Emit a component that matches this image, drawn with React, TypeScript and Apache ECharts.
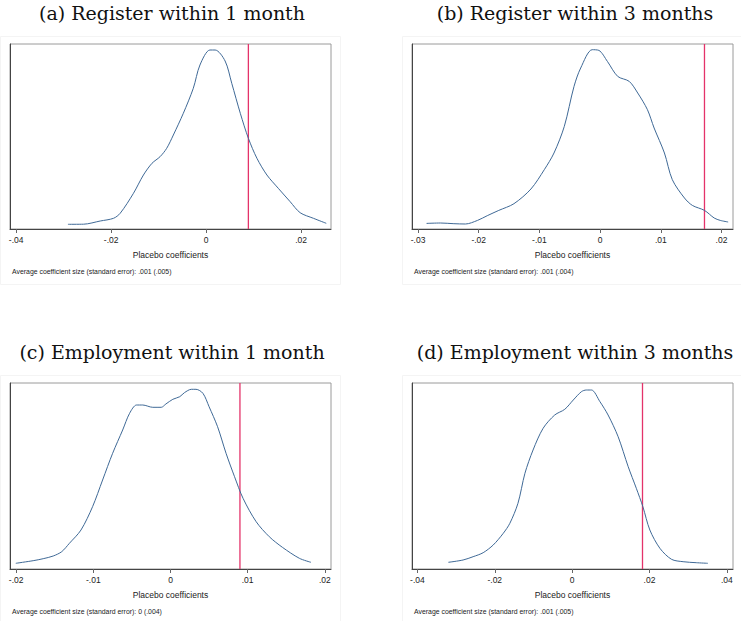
import React, { useEffect, useRef } from "react";
import * as echarts from "echarts";

// Panel titles
const titles = [
  "(a) Register within 1 month",
  "(b) Register within 3 months",
  "(c) Employment within 1 month",
  "(d) Employment within 3 months",
];
const footnotes = [
  "Average coefficient size (standard error): .001 (.005)",
  "Average coefficient size (standard error): .001 (.004)",
  "Average coefficient size (standard error): 0 (.004)",
  "Average coefficient size (standard error): .001 (.005)",
];
const xAxisTitle = "Placebo coefficients";

// x ranges and ticks
const xMins = [-0.0413, -0.031, -0.0208, -0.0414];
const xMaxs = [0.0263, 0.0219, 0.0208, 0.0416];
const ticksA = [-0.04, -0.02, 0, 0.02];
const ticksB = [-0.03, -0.02, -0.01, 0, 0.01, 0.02];
const ticksC = [-0.02, -0.01, 0, 0.01, 0.02];
const ticksD = [-0.04, -0.02, 0, 0.02, 0.04];
// actual estimates (red lines)
const actualEstimates = [0.0089, 0.0172, 0.009, 0.0182];

// Density curves: coefficient (x 1000) and density height
const coefA = [-29.1, -25.8, -22.3, -19.5, -18.1, -15.3, -13.2, -11.4, -9.7, -8.3, -6.9, -4.8, -2.7, -1.3, 0.8, 1.9, 4.0, 5.4, 7.2, 8.9, 10.7, 12.8, 15.2, 17.7, 19.8, 22.6, 25.3];
const densA = [4.7, 4.8, 8, 10.7, 15.7, 35.7, 54, 65.7, 72.3, 80.7, 94, 115.7, 140.7, 164, 179, 179, 168, 145.7, 115.7, 90.7, 70.7, 54, 40.7, 27.3, 16.3, 10.7, 5.7];

const coefB = [-28.6, -26.3, -24.1, -22.2, -20.2, -18.6, -16.7, -14.2, -11.4, -9.2, -7.6, -5.9, -4.3, -3.2, -1.3, -0.2, 1.2, 2.9, 4.8, 6.2, 7.8, 8.9, 10.6, 11.9, 13.9, 15.2, 17.2, 18.8, 19.8, 21.1];
const densB = [5.6, 6, 5.3, 5, 8.6, 13.3, 18.6, 25.3, 40, 59.3, 76, 102.6, 142.6, 161, 179.3, 178.6, 167.6, 152.6, 147.6, 136, 119.3, 101, 76, 49.3, 31, 23.6, 18.6, 11, 8.6, 7];

const coefC = [-20.05, -17.8, -16.5, -15.2, -14.1, -13.1, -11.6, -10.1, -8.8, -7.5, -6.2, -5.3, -4.4, -3.6, -2.3, -1.2, -0.6, 0.3, 1.2, 1.8, 2.7, 3.3, 4.2, 5.0, 6.1, 7.2, 8.3, 9.4, 11.1, 12.8, 14.5, 16.7, 18.2];
const densC = [5.7, 8.3, 10.3, 13, 17.3, 25.7, 39, 62.3, 89, 115.7, 139, 155.7, 164, 164, 161.7, 161.7, 165, 169.7, 172.3, 176.3, 179.7, 179.7, 175.7, 162.3, 142.3, 115.7, 92.3, 70.7, 47.3, 32.3, 21.7, 10.7, 6.7];

const coefD = [-32.0, -28.2, -25.6, -23.0, -20.4, -17.8, -16.1, -14.0, -12.2, -10.1, -7.5, -4.5, -1.9, 0.3, 2.4, 3.7, 5.0, 7.2, 9.3, 11.9, 14.5, 16.6, 18.3, 20.1, 22.7, 25.7, 28.7, 32.1, 35.1];
const densD = [6.7, 9, 12.3, 16.3, 24, 35.7, 45.7, 65.7, 95.7, 119, 140.7, 154, 159.7, 169, 177.3, 179, 179, 167.3, 154, 132.3, 102.3, 80.7, 62.3, 39, 20.7, 9.7, 7.3, 6.3, 5.7];

const coefs = [coefA, coefB, coefC, coefD];
const dens = [densA, densB, densC, densD];
const ticks = [ticksA, ticksB, ticksC, ticksD];
const yMaxs = [185, 185, 186, 186];

// layout (pixels)
const grids = [
  { left: 10, top: 44, width: 321, height: 185 },
  { left: 412, top: 44, width: 321, height: 185 },
  { left: 10, top: 383, width: 321, height: 186 },
  { left: 412, top: 383, width: 321, height: 186 },
];
const titlePos = [
  { x: 172, y: 13 },
  { x: 575, y: 13 },
  { x: 172, y: 352 },
  { x: 575, y: 352 },
];
const regionRects = [
  { x: 0, y: 36, w: 340, h: 248 },
  { x: 402, y: 36, w: 345, h: 248 },
  { x: 0, y: 375, w: 340, h: 250 },
  { x: 402, y: 375, w: 345, h: 250 },
];

const fmt = (v: number) => {
  if (Math.abs(v) < 1e-12) return "0";
  const s = String(parseFloat(v.toFixed(4)));
  return s.replace(/^(-?)0\./, "$1.");
};

export default function App() {
  const ref = useRef<HTMLDivElement>(null);
  useEffect(() => {
    if (!ref.current) return;
    const chart = echarts.init(ref.current, null, { renderer: "svg" });
    const sans = "Liberation Sans, Arial, sans-serif";
    const graphic: any[] = [];
    regionRects.forEach((r) => {
      graphic.push({
        type: "rect",
        shape: { x: r.x + 0.5, y: r.y + 0.5, width: r.w, height: r.h },
        style: { fill: "none", stroke: "#f4f4f4", lineWidth: 1 },
        silent: true,
        z: -1,
      });
    });
    titles.forEach((t, i) => {
      graphic.push({
        type: "text",
        x: titlePos[i].x,
        y: titlePos[i].y,
        style: {
          text: t,
          font: '19px "DejaVu Serif", serif',
          fill: "#111",
          textAlign: "center",
          textVerticalAlign: "middle",
        },
      });
    });
    footnotes.forEach((t, i) => {
      const g = grids[i];
      graphic.push({
        type: "text",
        x: g.left + 2,
        y: g.top + g.height + 42,
        style: {
          text: t,
          font: "6.9px " + sans,
          fill: "#222",
          textAlign: "left",
          textVerticalAlign: "middle",
        },
      });
    });

    const curveSeries = grids.map((_, i) => ({
      type: "line",
      xAxisIndex: i,
      yAxisIndex: i,
      data: coefs[i].map((c, k) => [c / 1000, dens[i][k]]),
      smooth: 0.3,
      showSymbol: false,
      symbol: "none",
      lineStyle: { color: "#3f6996", width: 1 },
      z: 3,
    }));
    const redSeries = grids.map((_, i) => ({
      type: "line",
      xAxisIndex: i,
      yAxisIndex: i,
      data: [
        [actualEstimates[i], 0],
        [actualEstimates[i], yMaxs[i]],
      ],
      showSymbol: false,
      symbol: "none",
      lineStyle: { color: "#e4336a", width: 1.3 },
      z: 2,
    }));

    const option: any = {
      animation: false,
      backgroundColor: "#ffffff",
      grid: grids.map((g) => ({
        ...g,
        show: true,
        borderColor: "#9a9a9a",
        borderWidth: 1,
        backgroundColor: "#ffffff",
        containLabel: false,
      })),
      xAxis: grids.map((_, i) => ({
        type: "value",
        gridIndex: i,
        min: xMins[i],
        max: xMaxs[i],
        name: xAxisTitle,
        nameLocation: "middle",
        nameGap: 21,
        nameTextStyle: { fontFamily: sans, fontSize: 8.5, color: "#222" },
        axisLine: { show: true, onZero: false, lineStyle: { color: "#444", width: 1 } },
        axisTick: {
          show: true,
          length: 4,
          customValues: ticks[i],
          lineStyle: { color: "#666" },
        },
        axisLabel: {
          show: true,
          customValues: ticks[i],
          formatter: (v: number) => fmt(v),
          fontFamily: sans,
          fontSize: 8.5,
          color: "#222",
          margin: 6,
          showMinLabel: true,
          showMaxLabel: true,
        },
        splitLine: { show: false },
      })),
      yAxis: grids.map((_, i) => ({
        type: "value",
        gridIndex: i,
        min: 0,
        max: yMaxs[i],
        axisLine: { show: true, onZero: false, lineStyle: { color: "#444", width: 1 } },
        axisTick: { show: false },
        axisLabel: { show: false },
        splitLine: { show: false },
      })),
      series: [...curveSeries, ...redSeries],
      graphic,
    };
    chart.setOption(option);
    return () => chart.dispose();
  }, []);
  return (
    <div
      ref={ref}
      style={{ position: "fixed", left: 0, top: 0, width: 741, height: 621, background: "#fff" }}
    />
  );
}
